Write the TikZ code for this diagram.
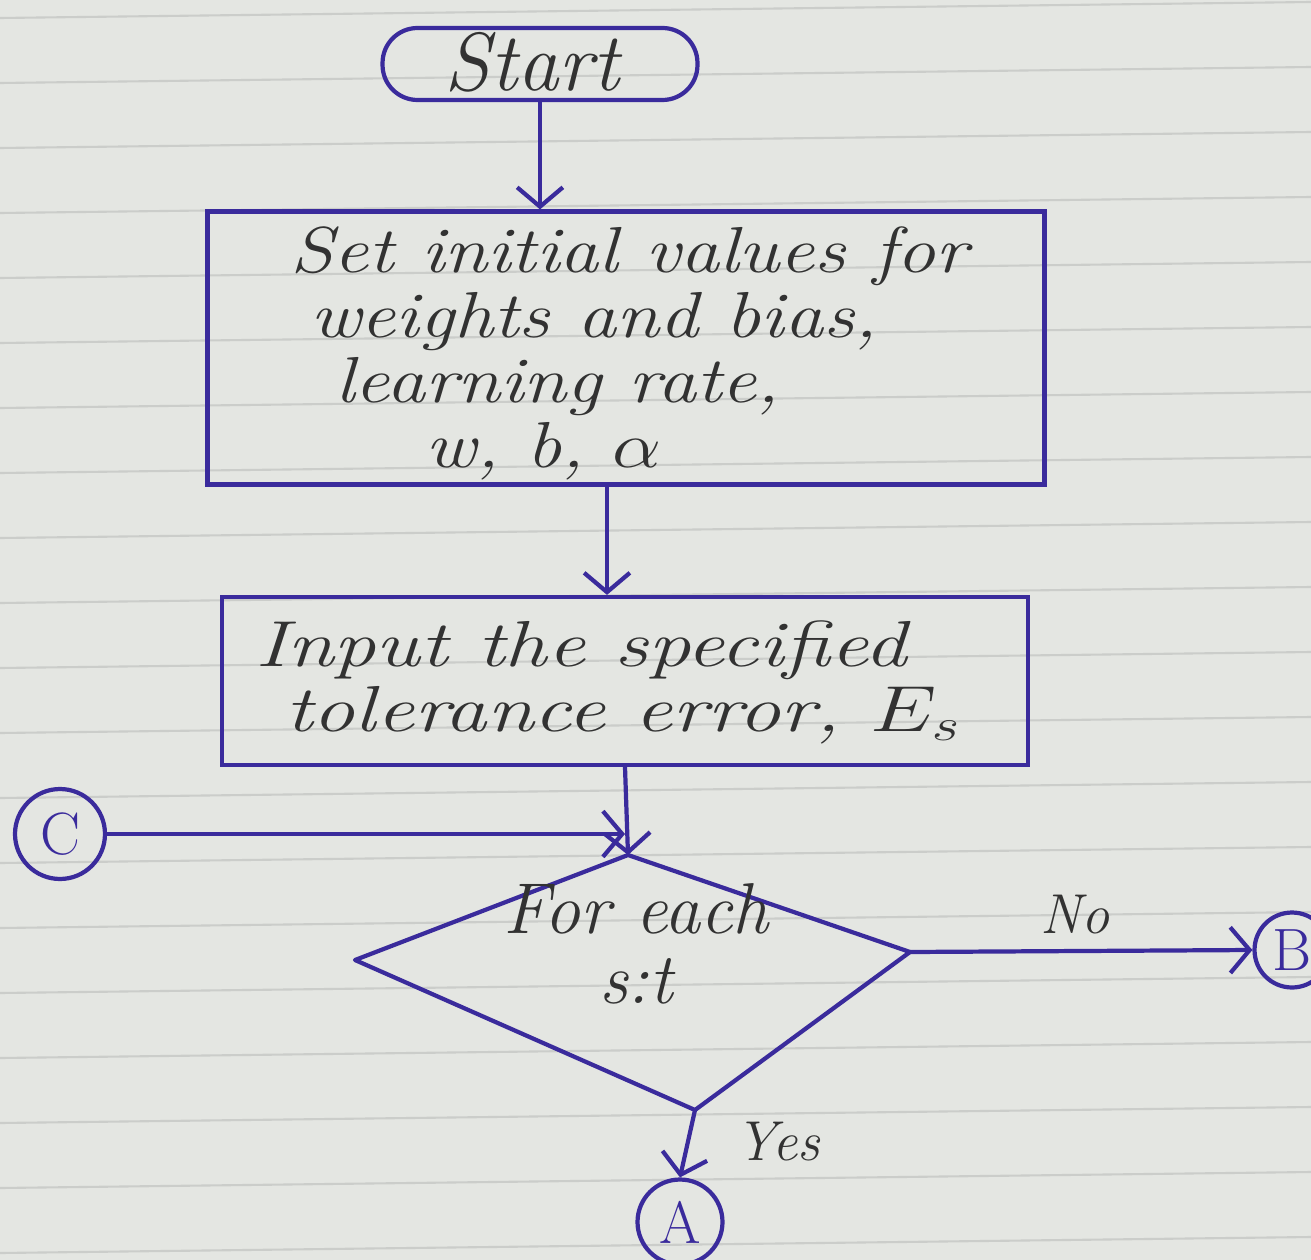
\RequirePackage{fix-cm}
\documentclass[tikz,border=0pt]{standalone}
\usepackage{graphicx}
\usetikzlibrary{arrows.meta,calc}
\definecolor{ink}{HTML}{3A2B9C}
\definecolor{pencil}{HTML}{323232}
\definecolor{paper}{HTML}{E4E6E2}
\definecolor{ruling}{HTML}{CBCDCA}
% left-aligned block of lines, stretched sideways like wide handwriting
\newcommand\handblock[2]{\scalebox{#1}[1]{\begin{tabular}{@{}l@{}}#2\end{tabular}}}
\begin{document}
\begin{tikzpicture}[x=0.02cm,y=-0.02cm,
  outline/.style={draw=ink,line width=2.4pt},
  stepbox/.style={outline,rectangle,inner sep=0pt},
  joiner/.style={outline,circle,minimum size=#1,inner sep=0pt,text=ink,
    font=\fontsize{34}{34}\selectfont},
  flow/.style={draw=ink,line width=2.4pt,
    -{Straight Barb[length=11pt,width=26pt,line width=2.4pt]}},
  wire/.style={draw=ink,line width=2.4pt,line join=round},
  hand/.style={text=pencil,font=\fontsize{37}{37}\selectfont\itshape,
    align=left,inner sep=0pt},
  bighand/.style={hand,font=\fontsize{47}{47}\selectfont\itshape},
  dechand/.style={hand,font=\fontsize{41}{40}\selectfont\itshape,align=center},
  tag/.style={text=pencil,font=\fontsize{32}{32}\selectfont\itshape,inner sep=0pt}]
\useasboundingbox (0,0) rectangle (1311,1260);
\clip (0,0) rectangle (1311,1260);

% ruled paper
\fill[paper] (0,0) rectangle (1311,1260);
\foreach \k in {0,...,19}
  \draw[ruling,line width=1.2pt] (0,{18+65*\k}) -- (1311,{2+65*\k});

% terminal
\node[outline,rounded corners=0.7cm,minimum width=6.3cm,minimum height=1.44cm] (start) at (540,64) {};
\node[bighand] (startlbl) at (532,62) {Start};

% initialisation step
\node[stepbox,minimum width=16.74cm,minimum height=5.46cm] (init) at (626,348) {};
\node[hand,anchor=north west] (initlbl) at (290,226)
  {\handblock{1.2}{Set initial values for\\
   \hspace*{0.33cm}weights and bias,\\
   \hspace*{0.75cm}learning rate,\\
   \hspace*{2.25cm}w, b, $\alpha$}};

% tolerance input
\node[stepbox,minimum width=16.12cm,minimum height=3.36cm] (input) at (625,681) {};
\node[hand,anchor=north west] (inputlbl) at (255,620)
  {\handblock{1.3}{Input the specified\\
   \hspace*{0.46cm}tolerance error, $E_s$}};

% decision
\coordinate (dtop)   at (628,855);
\coordinate (dright) at (910,952);
\coordinate (dbot)   at (695,1110);
\coordinate (dleft)  at (355,960);
\draw[wire] (dtop) -- (dright) -- (dbot) -- (dleft) -- cycle;
\node[dechand] (declbl) at (636,944) {For each\\ s:t};

% off-page connectors
\node[joiner=1.8cm] (cconn) at (60,834) {C};
\node[joiner=1.5cm] (bconn) at (1292,950) {B};
\node[joiner=1.7cm] (aconn) at (680,1222) {A};

% flow lines
\draw[flow] (start.south) -- (start.south |- init.north);
\draw[flow] ($(init.south)+(-19,0)$) -- ($(input.north)+(-18,0)$);
\draw[flow] (input.south) -- (dtop);
\draw[flow] (cconn.east) -- (cconn.east -| input.south);
\draw[flow] (dright) -- (bconn.west);
\draw[flow] (dbot) -- (aconn.north);

% branch labels
\node[tag] (nolbl) at (1075,915) {No};
\node[tag] (yeslbl) at (778,1142) {Yes};
\end{tikzpicture}
\end{document}
